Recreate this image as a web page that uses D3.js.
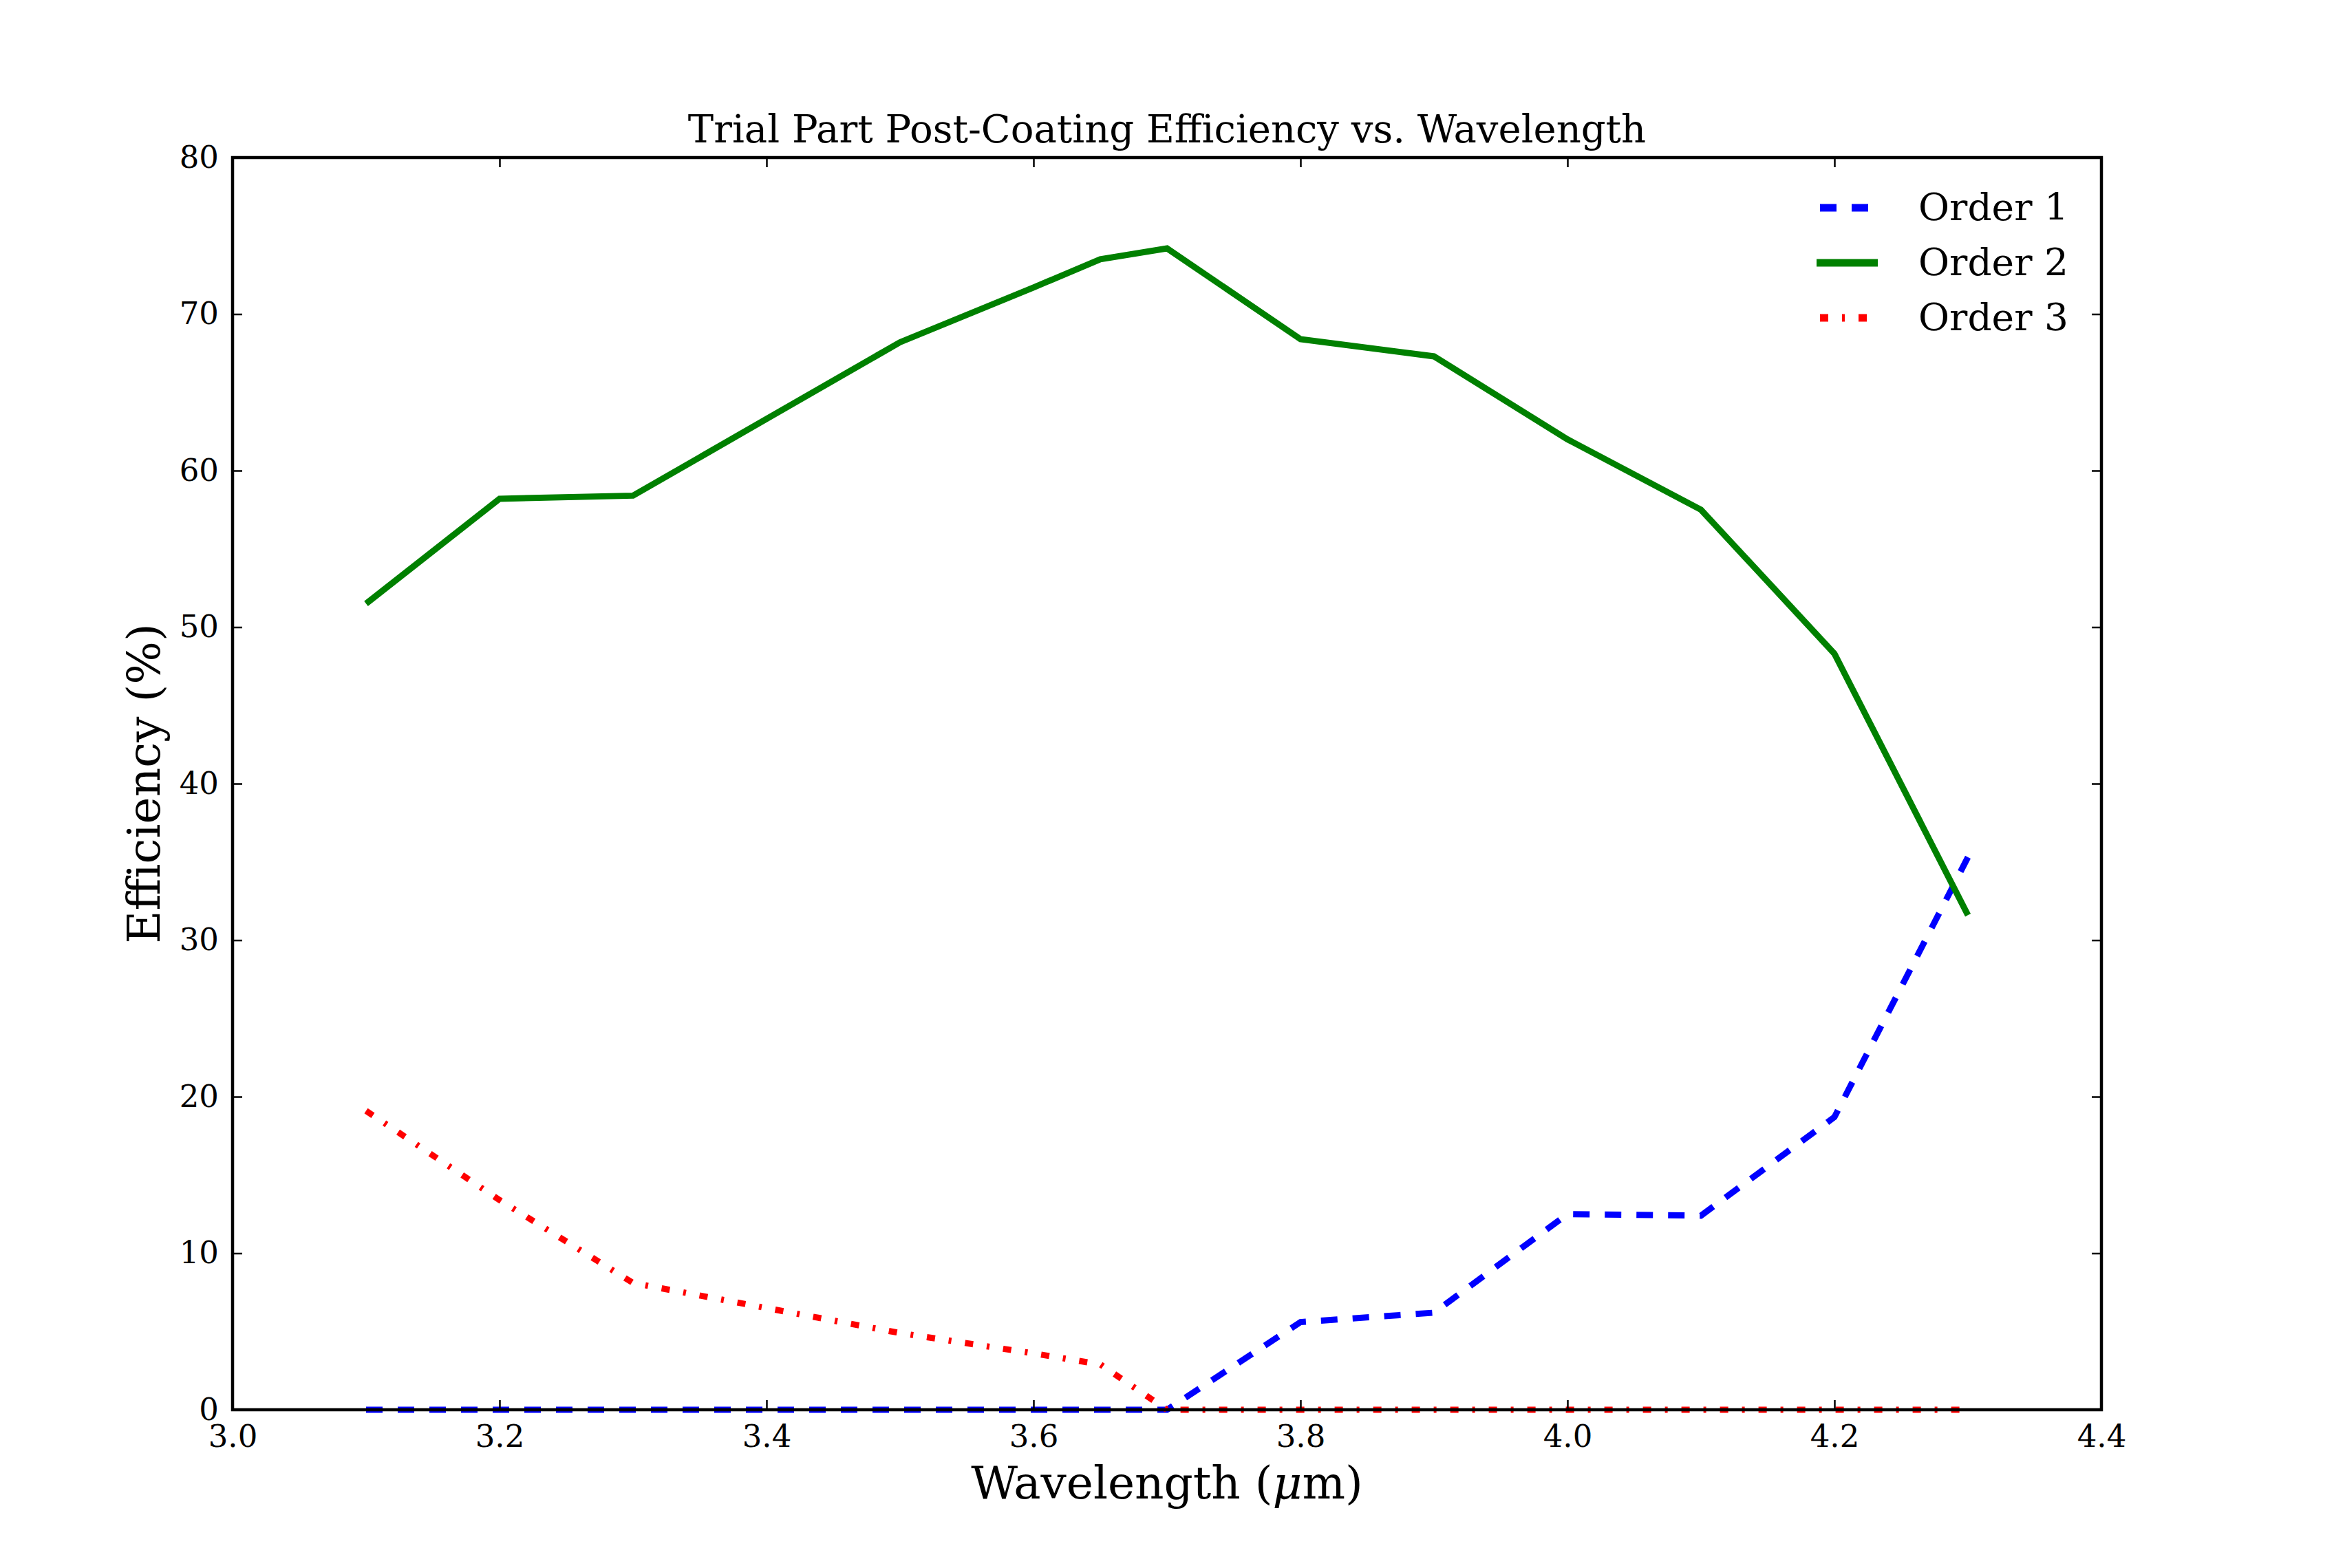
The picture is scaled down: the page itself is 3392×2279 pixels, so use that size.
<!DOCTYPE html>
<html><head><meta charset="utf-8">
<script src="https://cdn.jsdelivr.net/npm/d3@7"></script>
<style>body{margin:0;background:#fff}</style></head>
<body><svg id="c" width="3392" height="2279"></svg>
<script>
const wavelength = [3.1,3.2,3.3,3.4,3.5,3.6,3.65,3.7,3.8,3.9,4.0,4.1,4.2,4.3];
const order1 = [0,0,0,0,0,0,0,0,5.6,6.2,12.5,12.4,18.7,35.3];
const order2 = [51.5,58.2,58.4,63.3,68.2,71.7,73.5,74.2,68.4,67.3,62.0,57.5,48.3,31.6];
const order3 = [19.1,13.4,8.1,6.5,4.9,3.6,2.9,0,0,0,0,0,0,0];
const xTicks = [3.0,3.2,3.4,3.6,3.8,4.0,4.2,4.4];
const yTicks = [0,10,20,30,40,50,60,70,80];
const seriesNames = ["Order 1","Order 2","Order 3"];

const L=338,R=3054,T=229,B=2049;
const svg=d3.select("#c");
const font="DejaVu Serif";
const x=d3.scaleLinear().domain([3.0,4.4]).range([L,R]);
const y=d3.scaleLinear().domain([0,80]).range([B,T]);

const styles=[
 {c:"#0000ff",w:9,d:"24,22"},
 {c:"#008000",w:9,d:null},
 {c:"#ff0000",w:9,d:"12,20,4,20"}];
const data=[order1,order2,order3];
const line=d3.line().x((d,i)=>x(wavelength[i])).y(d=>y(d));
data.forEach((s,k)=>{
  const p=svg.append("path").attr("d",line(s)).attr("fill","none")
   .attr("stroke",styles[k].c).attr("stroke-width",styles[k].w);
  if(styles[k].d)p.attr("stroke-dasharray",styles[k].d);
});

function axis(g,ax){g.call(ax);g.select(".domain").remove();
 g.selectAll("text").attr("font-family",font).attr("font-size",45).attr("fill","#000");
 g.selectAll("line").attr("stroke","#000").attr("stroke-width",2.5);}
axis(svg.append("g").attr("transform",`translate(0,${B})`),
 d3.axisBottom(x).tickValues(xTicks).tickFormat(d3.format(".1f")).tickSizeInner(-14).tickPadding(22));
axis(svg.append("g").attr("transform",`translate(0,${T})`),
 d3.axisTop(x).tickValues(xTicks).tickFormat("").tickSizeInner(-14));
axis(svg.append("g").attr("transform",`translate(${L},0)`),
 d3.axisLeft(y).tickValues(yTicks).tickFormat(d3.format("d")).tickSizeInner(-14).tickPadding(20));
axis(svg.append("g").attr("transform",`translate(${R},0)`),
 d3.axisRight(y).tickValues(yTicks).tickFormat("").tickSizeInner(-14));

svg.append("rect").attr("x",L).attr("y",T).attr("width",R-L).attr("height",B-T)
 .attr("fill","none").attr("stroke","#000").attr("stroke-width",4.5);

svg.append("text").attr("x",(L+R)/2).attr("y",T-22).attr("text-anchor","middle")
 .attr("font-family",font).attr("font-size",56).text("Trial Part Post-Coating Efficiency vs. Wavelength");
svg.append("text").attr("x",(L+R)/2).attr("y",2178).attr("text-anchor","middle")
 .attr("font-family",font).attr("font-size",66).html('Wavelength (<tspan font-style="italic">μ</tspan>m)');
svg.append("text").attr("transform",`translate(232,${(T+B)/2}) rotate(-90)`).attr("text-anchor","middle")
 .attr("font-family",font).attr("font-size",66).text("Efficiency (%)");

seriesNames.forEach((n,k)=>{
  const yy=302+k*80;
  const l=svg.append("line").attr("x1",2640).attr("x2",2729).attr("y1",yy).attr("y2",yy)
   .attr("stroke",styles[k].c).attr("stroke-width",styles[k].w+2);
  if(styles[k].d)l.attr("stroke-dasharray",styles[k].d).attr("x1",2645);
  svg.append("text").attr("x",2788).attr("y",yy+18).attr("font-family",font)
   .attr("font-size",55).text(n);
});
</script></body></html>
